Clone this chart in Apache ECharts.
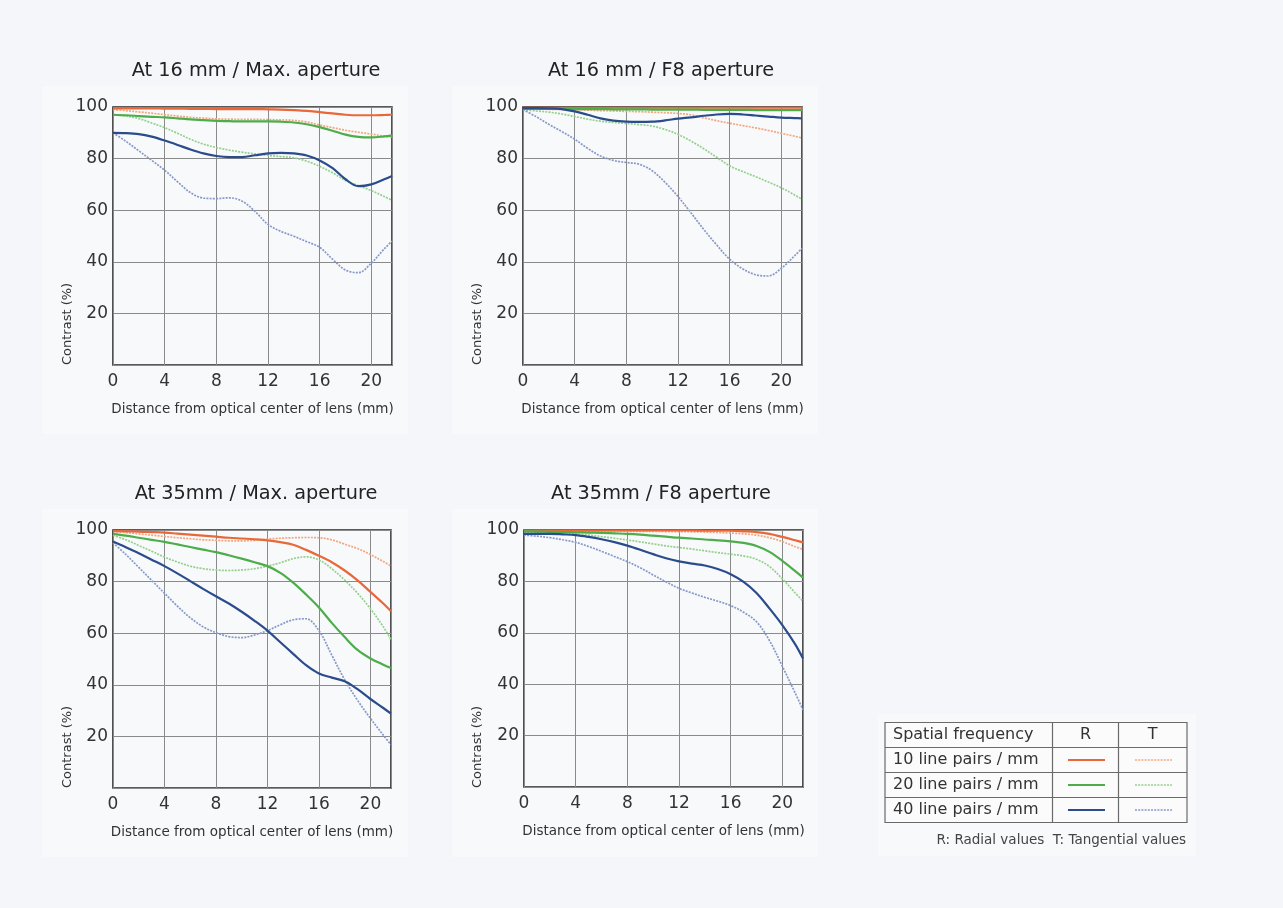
<!DOCTYPE html>
<html>
<head>
<meta charset="utf-8">
<script src="https://cdn.jsdelivr.net/npm/echarts@6/dist/echarts.min.js"></script>
<style>
html,body{margin:0;padding:0;background:#f5f6fa;}
#chart{width:1283px;height:908px;}
</style>
</head>
<body>
<div id="chart"></div>
<script>
// Shared sample positions (mm from optical center)
const X = [0,1,2,3,4,5,6,7,8,9,10,11,12,13,14,15,16,17,18,19,20,21,21.6];
const xTicks = [0,4,8,12,16,20];
const yTicks = [20,40,60,80,100];

const titles = ["At 16 mm / Max. aperture", "At 16 mm / F8 aperture", "At 35mm / Max. aperture", "At 35mm / F8 aperture"];

// Chart 1: 16 mm, max aperture
const c1_r10 = [99.5,99.5,99.5,99.5,99.4,99.4,99.3,99.3,99.2,99.2,99.2,99.2,99.1,99.0,98.8,98.5,98.0,97.5,97.0,96.8,96.8,96.9,97.0];
const c1_t10 = [99.0,98.6,98.1,97.6,97.0,96.5,96.0,95.7,95.4,95.3,95.2,95.2,95.1,95.0,94.8,94.2,93.0,92.0,91.0,90.2,89.5,88.7,88.3];
const c1_r20 = [97.0,96.8,96.5,96.2,96.0,95.6,95.2,94.9,94.6,94.5,94.4,94.4,94.4,94.3,94.0,93.3,92.2,90.8,89.3,88.4,88.2,88.6,89.0];
const c1_t20 = [97.0,96.5,95.5,93.8,92.0,89.8,87.5,85.6,84.3,83.3,82.5,81.8,81.2,80.8,80.3,79.0,77.0,74.5,71.5,69.5,67.6,65.3,63.8];
const c1_r40 = [90.0,89.9,89.5,88.5,87.0,85.3,83.5,82.0,81.0,80.6,80.6,81.3,82.0,82.2,82.0,81.2,79.3,76.3,72.0,69.3,70.0,72.0,73.3];
const c1_t40 = [90.0,86.7,83.0,79.3,75.5,71.0,66.8,64.7,64.5,64.8,63.5,59.5,54.5,51.8,49.9,47.8,45.6,41.0,36.8,35.8,39.5,45.0,48.0];

// Chart 2: 16 mm, F8
const c2_r10 = [99.7,99.7,99.7,99.7,99.7,99.7,99.7,99.7,99.7,99.7,99.7,99.7,99.7,99.7,99.7,99.7,99.7,99.7,99.7,99.7,99.7,99.7,99.7];
const c2_t10 = [99.3,99.2,99.1,99.0,98.9,98.8,98.6,98.5,98.3,98.2,98.0,97.8,97.5,97.0,95.8,94.7,93.7,92.8,91.9,90.9,89.8,88.7,88.0];
const c2_r20 = [99.3,99.3,99.3,99.3,99.2,99.2,99.2,99.1,99.1,99.1,99.0,99.0,99.0,99.0,98.9,98.9,98.9,98.9,98.8,98.8,98.8,98.8,98.8];
const c2_t20 = [99.0,98.5,98.0,97.3,96.3,95.3,94.5,94.0,93.6,93.2,92.6,91.3,89.4,86.8,83.8,80.5,77.2,75.0,73.0,70.9,68.7,66.0,64.2];
const c2_r40 = [99.6,99.6,99.5,99.2,98.3,97.0,95.6,94.7,94.3,94.2,94.3,94.8,95.5,96.0,96.6,97.1,97.3,97.1,96.7,96.3,95.9,95.7,95.6];
const c2_t40 = [99.0,96.3,93.3,90.5,87.5,84.0,81.0,79.3,78.5,77.8,75.3,70.8,65.3,59.0,52.5,46.5,41.0,37.3,35.0,34.5,37.5,42.2,45.2];

// Chart 3: 35 mm, max aperture
const c3_r10 = [99.6,99.5,99.4,99.2,99.0,98.6,98.2,97.8,97.4,97.0,96.7,96.4,96.0,95.3,94.3,92.3,90.0,87.5,84.3,80.5,76.0,71.5,68.5];
const c3_t10 = [99.5,99.0,98.5,98.0,97.5,97.0,96.6,96.2,96.0,95.8,95.8,96.0,96.5,96.8,97.0,97.1,97.0,96.2,94.5,92.8,90.5,87.8,86.0];
const c3_r20 = [98.5,97.8,97.0,96.2,95.4,94.4,93.4,92.4,91.4,90.2,88.9,87.5,86.0,83.4,79.6,75.0,70.0,64.0,58.5,53.5,50.2,47.8,46.5];
const c3_t20 = [98.0,96.2,94.0,91.8,89.5,87.6,86.0,85.0,84.5,84.3,84.5,85.0,86.0,87.3,88.9,89.6,88.4,85.0,80.6,75.5,69.5,62.5,57.5];
const c3_r40 = [95.5,93.3,91.0,88.5,86.0,83.2,80.2,77.2,74.3,71.5,68.3,64.8,61.0,56.5,52.0,47.6,44.4,42.8,41.4,38.3,34.5,31.0,28.8];
const c3_t40 = [95.0,90.5,85.5,80.5,75.5,70.5,66.0,62.5,60.2,58.7,58.3,59.3,61.0,63.3,65.2,65.6,61.0,51.5,42.0,34.0,27.0,20.5,16.8];

// Chart 4: 35 mm, F8
const c4_r10 = [99.8,99.8,99.8,99.8,99.8,99.8,99.8,99.8,99.8,99.8,99.8,99.8,99.8,99.8,99.7,99.7,99.7,99.5,99.2,98.5,97.3,96.0,95.2];
const c4_t10 = [99.5,99.5,99.5,99.5,99.5,99.5,99.5,99.5,99.5,99.5,99.5,99.4,99.4,99.3,99.2,99.0,98.8,98.5,98.0,97.0,95.5,93.5,92.5];
const c4_r20 = [99.5,99.4,99.3,99.2,99.1,99.0,98.9,98.7,98.5,98.2,97.8,97.4,97.0,96.7,96.3,96.0,95.6,95.0,93.8,91.5,88.0,84.0,81.5];
const c4_t20 = [99.0,98.9,98.8,98.7,98.5,98.0,97.4,96.8,96.1,95.4,94.6,93.8,93.2,92.6,91.9,91.2,90.6,89.9,88.6,85.8,81.0,75.5,72.3];
const c4_r40 = [98.5,98.5,98.5,98.3,98.0,97.3,96.4,95.3,93.9,92.3,90.6,89.0,87.8,86.9,86.2,84.8,82.8,79.8,75.5,69.5,63.0,55.5,50.0];
const c4_t40 = [98.0,97.6,97.0,96.2,95.2,93.6,91.7,89.7,87.7,85.3,82.5,79.8,77.3,75.5,73.8,72.3,70.6,68.0,64.3,57.0,47.0,36.5,30.0];

const legendRows = ["10 line pairs / mm", "20 line pairs / mm", "40 line pairs / mm"];

const FONT = "'DejaVu Sans', 'Noto Sans', sans-serif";
const colR = ['#e8683a', '#4cad4a', '#2b4c8c'];
const colT = ['#f2a67c', '#93d08c', '#8799c8'];

const charts = [
  {grid:{left:113, top:107, width:279, height:258}, tc:256, ty:56, data:[c1_r10,c1_t10,c1_r20,c1_t20,c1_r40,c1_t40], yName:[67.5,365]},
  {grid:{left:523, top:107, width:279, height:258}, tc:661, ty:56, data:[c2_r10,c2_t10,c2_r20,c2_t20,c2_r40,c2_t40], yName:[477.5,365]},
  {grid:{left:113, top:530, width:278, height:258}, tc:256, ty:479, data:[c3_r10,c3_t10,c3_r20,c3_t20,c3_r40,c3_t40], yName:[67.5,788]},
  {grid:{left:524, top:530, width:279, height:257}, tc:661, ty:479, data:[c4_r10,c4_t10,c4_r20,c4_t20,c4_r40,c4_t40], yName:[477.5,788]}
];

const grids = [], xAxes = [], yAxes = [], series = [], titleArr = [], graphics = [];

// subtle panels behind each chart
const panels = [[42,86,366,348],[452,86,366,348],[42,509,366,348],[452,509,366,348],[878,714,318,142]];
panels.forEach(p => graphics.push({type:'rect', z:-10, shape:{x:p[0],y:p[1],width:p[2],height:p[3]}, style:{fill:'#f8f9fb'}, silent:true}));

charts.forEach((c, i) => {
  grids.push(Object.assign({show:true, borderColor:'#262626', borderWidth:1.6, backgroundColor:'transparent', containLabel:false}, c.grid));
  xAxes.push({
    gridIndex:i, type:'value', min:0, max:21.6, interval:4,
    axisLine:{show:false}, axisTick:{show:false},
    axisLabel:{color:'#333', fontSize:17, fontFamily:FONT, margin:8,
      formatter: v => xTicks.indexOf(v) >= 0 ? String(v) : ''},
    splitLine:{show:true, lineStyle:{color:'#8a8a8a', width:1}},
    name:'Distance from optical center of lens (mm)', nameLocation:'middle', nameGap:37,
    nameTextStyle:{color:'#333', fontSize:13.5, fontFamily:FONT}
  });
  yAxes.push({
    gridIndex:i, type:'value', min:0, max:100, interval:20,
    axisLine:{show:false}, axisTick:{show:false},
    axisLabel:{color:'#333', fontSize:17, fontFamily:FONT, margin:5,
      formatter: v => yTicks.indexOf(v) >= 0 ? String(v) : ''},
    splitLine:{show:true, lineStyle:{color:'#8a8a8a', width:1}}
  });
  titleArr.push({text:titles[i], left:c.tc - 5, top:c.ty, textAlign:'center',
    textStyle:{color:'#222', fontSize:19.3, fontWeight:'normal', fontFamily:FONT}});
  graphics.push({type:'text', x:c.yName[0], y:c.yName[1], rotation:Math.PI/2,
    style:{text:'Contrast (%)', fill:'#333', font:'13px ' + FONT, align:'left', verticalAlign:'middle'}});
  c.data.forEach((arr, k) => {
    const f = Math.floor(k/2), isT = (k % 2 === 1);
    series.push({
      type:'line', xAxisIndex:i, yAxisIndex:i, symbol:'none', smooth:0.35,
      data: X.map((x, j) => [x, arr[j]]),
      z: isT ? 2 : 3,
      lineStyle: isT ? {color:colT[f], width:1.7, type:[2,1.2]} : {color:colR[f], width:2.2},
      silent:true, animation:false
    });
  });
});

// Legend table
const tx = 885, ty = 722.5, tw = 302, rowH = 25, c1x = 1052.5, c2x = 1118.5;
graphics.push({type:'rect', shape:{x:tx, y:ty, width:tw, height:rowH*4}, style:{fill:'#fbfbfc', stroke:'#6a6a6a', lineWidth:1.2}});
for (let r = 1; r < 4; r++) {
  graphics.push({type:'line', shape:{x1:tx, y1:ty + r*rowH, x2:tx+tw, y2:ty + r*rowH}, style:{stroke:'#6a6a6a', lineWidth:1.2}});
}
[c1x, c2x].forEach(cx => graphics.push({type:'line', shape:{x1:cx, y1:ty, x2:cx, y2:ty+rowH*4}, style:{stroke:'#6a6a6a', lineWidth:1.2}}));
graphics.push({type:'text', x:893, y:ty + rowH/2, style:{text:'Spatial frequency', fill:'#333', font:'16px ' + FONT, align:'left', verticalAlign:'middle'}});
graphics.push({type:'text', x:(c1x+c2x)/2, y:ty + rowH/2, style:{text:'R', fill:'#333', font:'16px ' + FONT, align:'center', verticalAlign:'middle'}});
graphics.push({type:'text', x:(c2x+tx+tw)/2, y:ty + rowH/2, style:{text:'T', fill:'#333', font:'16px ' + FONT, align:'center', verticalAlign:'middle'}});
legendRows.forEach((t, r) => {
  const cy = ty + rowH*(r+1) + rowH/2;
  graphics.push({type:'text', x:893, y:cy, style:{text:t, fill:'#333', font:'16px ' + FONT, align:'left', verticalAlign:'middle'}});
  graphics.push({type:'line', shape:{x1:1068, y1:cy, x2:1105, y2:cy}, style:{stroke:colR[r], lineWidth:2.2}});
  graphics.push({type:'line', shape:{x1:1135, y1:cy, x2:1172, y2:cy}, style:{stroke:colT[r], lineWidth:1.7, lineDash:[2,1.2]}});
});
graphics.push({type:'text', x:1186, y:840, style:{text:'R: Radial values  T: Tangential values', fill:'#444', font:'13.5px ' + FONT, align:'right', verticalAlign:'middle'}});

const chart = echarts.init(document.getElementById('chart'), null, {renderer:'canvas'});
chart.setOption({
  backgroundColor:'#f5f6fa',
  animation:false,
  title:titleArr,
  grid:grids,
  xAxis:xAxes,
  yAxis:yAxes,
  series:series,
  graphic:graphics
});
</script>
</body>
</html>
